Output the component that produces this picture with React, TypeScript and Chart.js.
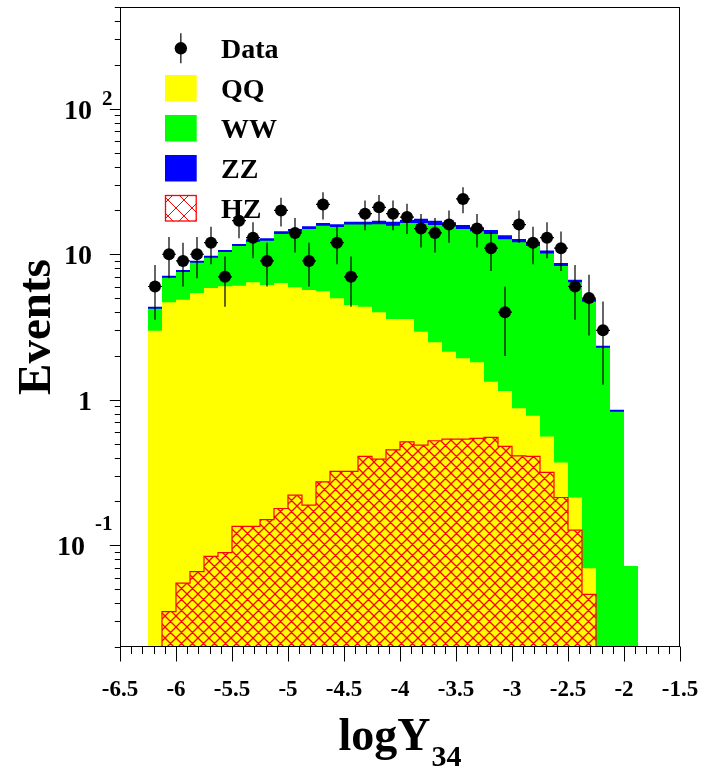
import { useEffect, useRef } from "react";
import { Chart, registerables } from "chart.js";

Chart.register(...registerables);

// ---------------- data ----------------
const binLowEdges = [
  -6.25, -6.125, -6.0, -5.875, -5.75, -5.625, -5.5, -5.375, -5.25, -5.125,
  -5.0, -4.875, -4.75, -4.625, -4.5, -4.375, -4.25, -4.125, -4.0, -3.875,
  -3.75, -3.625, -3.5, -3.375, -3.25, -3.125, -3.0, -2.875, -2.75, -2.625,
  -2.5, -2.375, -2.25, -2.125, -2.0,
];
const binWidth = 0.125;

const qq = [
  2.98, 4.67, 4.87, 5.41, 5.86, 6.02, 6.08, 6.41, 6.14, 6.34,
  5.92, 5.67, 5.56, 4.98, 4.48, 4.36, 3.99, 3.59, 3.59, 2.93,
  2.48, 2.14, 1.93, 1.81, 1.33, 1.15, 0.873, 0.776, 0.56, 0.371,
  0.213, 0.0694, 0, 0, 0,
];
const ww = [
  1.24, 2.22, 2.68, 3.34, 3.61, 4.35, 5.31, 5.79, 6.26, 7.46,
  8.38, 9.23, 10.14, 10.42, 11.52, 11.64, 12.11, 12.11, 12.81, 13.47,
  13.42, 13.36, 12.97, 12.59, 12.47, 11.55, 11.23, 10.62, 9.54, 7.93,
  6.2, 4.65, 2.28, 0.827, 0.072,
];
const zz = [
  0.14, 0.22, 0.24, 0.28, 0.3, 0.33, 0.36, 0.5, 0.5, 0.6,
  0.6, 0.7, 0.7, 0.7, 0.7, 0.7, 0.9, 1.0, 0.8, 1.1,
  1.1, 1.1, 1.0, 0.9, 0.9, 0.8, 0.6, 0.8, 0.5, 0.4,
  0.27, 0.2, 0.07, 0.027, 0,
];
const hz = [
  0, 0.035, 0.055, 0.066, 0.084, 0.089, 0.135, 0.135, 0.15, 0.179,
  0.221, 0.189, 0.273, 0.322, 0.322, 0.408, 0.391, 0.453, 0.514, 0.488,
  0.523, 0.537, 0.537, 0.543, 0.552, 0.478, 0.412, 0.408, 0.317, 0.213,
  0.127, 0.046, 0, 0, 0,
];

const dataValues = [
  6, 10, 9, 10, 12, 7, 17, 13, 9, 20, 14, 9, 22, 12, 7, 19, 21, 19, 18, 15,
  14, 16, 24, 15, 11, 4, 16, 12, 13, 11, 6, 5, 3,
];
const dataErrors = [
  2.45, 3.16, 3.0, 3.16, 3.46, 2.65, 4.12, 3.61, 3.0, 4.47, 3.74, 3.0, 4.69,
  3.46, 2.65, 4.36, 4.58, 4.36, 4.24, 3.87, 3.74, 4.0, 4.9, 3.87, 3.32, 2.0,
  4.0, 3.46, 3.61, 3.32, 2.45, 2.24, 1.73,
];

const xMin = -6.5;
const xMax = -1.5;
const yMin = 0.02;
const yMax = 500;
const xMajorTicks = [-6.5, -6, -5.5, -5, -4.5, -4, -3.5, -3, -2.5, -2, -1.5];
const xMajorLabels = ["-6.5", "-6", "-5.5", "-5", "-4.5", "-4", "-3.5", "-3", "-2.5", "-2", "-1.5"];
const yMajorTicks = [0.1, 1, 10, 100];
const yMajorBase = ["10", "1", "10", "10"];
const yMajorExp = ["-1", "", "", "2"];

const legendLabels = ["Data", "QQ", "WW", "ZZ", "HZ"];
const YELLOW = "#ffff00";
const GREEN = "#00ff00";
const BLUE = "#0000ff";
const RED = "#ff0000";
const SERIF = '"Liberation Serif", "Times New Roman", Times, serif';
const FLOOR = 0.001;

// ---------------- helpers ----------------
function stepPoints(values: number[]) {
  const pts: { x: number; y: number }[] = [];
  const last = binLowEdges.length - 1;
  pts.push({ x: binLowEdges[0], y: FLOOR });
  values.forEach((v, i) => pts.push({ x: binLowEdges[i], y: v > 0 ? v : FLOOR }));
  const end = binLowEdges[last] + binWidth;
  pts.push({ x: end, y: values[last] > 0 ? values[last] : FLOOR });
  pts.push({ x: end, y: FLOOR });
  return pts;
}

function makeHatch(size: number, bg: string | null, lw: number): any {
  const c = document.createElement("canvas");
  c.width = size;
  c.height = size;
  const g = c.getContext("2d");
  if (!g) return RED;
  if (bg) {
    g.fillStyle = bg;
    g.fillRect(0, 0, size, size);
  }
  g.strokeStyle = RED;
  g.lineWidth = lw;
  g.beginPath();
  for (const k of [-size, 0, size]) {
    g.moveTo(k, 0);
    g.lineTo(k + size, size);
    g.moveTo(k, size);
    g.lineTo(k + size, 0);
  }
  g.stroke();
  return g.createPattern(c, "repeat") ?? RED;
}

function makePlugin(legendHatch: any) {
  return {
    id: "rootStyle",
    afterDatasetsDraw(chart: any) {
      const ctx = chart.ctx as CanvasRenderingContext2D;
      const xs = chart.scales.x;
      const ys = chart.scales.y;
      ctx.save();
      ctx.strokeStyle = "#000";
      ctx.lineWidth = 1.2;
      dataValues.forEach((v, i) => {
        const cx = binLowEdges[i] + binWidth / 2;
        const px = xs.getPixelForValue(cx);
        const py = ys.getPixelForValue(v);
        const top = ys.getPixelForValue(v + dataErrors[i]);
        const bot = ys.getPixelForValue(Math.max(v - dataErrors[i], FLOOR));
        ctx.beginPath();
        ctx.moveTo(px, top);
        ctx.lineTo(px, bot);
        ctx.moveTo(xs.getPixelForValue(cx - binWidth / 2), py);
        ctx.lineTo(xs.getPixelForValue(cx + binWidth / 2), py);
        ctx.stroke();
      });
      ctx.restore();
    },
    afterDraw(chart: any) {
      const ctx = chart.ctx as CanvasRenderingContext2D;
      const a = chart.chartArea;
      const xs = chart.scales.x;
      const ys = chart.scales.y;
      ctx.save();
      ctx.strokeStyle = "#000";
      ctx.lineWidth = 1;
      // frame
      ctx.strokeRect(a.left + 0.5, a.top + 0.5, a.right - a.left - 1, a.bottom - a.top - 1);

      // x ticks
      const bottom = a.bottom - 0.5;
      ctx.beginPath();
      for (let i = 0; i <= 50; i++) {
        const v = xMin + i * 0.1;
        const px = Math.round(xs.getPixelForValue(v)) + 0.5;
        const len = i % 5 === 0 ? 15 : 7.5;
        ctx.moveTo(px, bottom);
        ctx.lineTo(px, bottom + len);
      }
      // y ticks
      const left = a.left + 0.5;
      for (const d of [0.01, 0.1, 1, 10, 100]) {
        for (let m = 1; m <= 9; m++) {
          const v = m * d;
          if (v < yMin * 0.999 || v > yMax * 1.001) continue;
          const py = Math.round(ys.getPixelForValue(v)) + 0.5;
          const len = m === 1 ? 10.7 : 5.7;
          ctx.moveTo(left, py);
          ctx.lineTo(left - len, py);
        }
      }
      ctx.stroke();

      // x tick labels
      ctx.fillStyle = "#000";
      ctx.font = `bold 23px ${SERIF}`;
      ctx.textAlign = "center";
      ctx.textBaseline = "alphabetic";
      xMajorTicks.forEach((v, i) => {
        ctx.fillText(xMajorLabels[i], xs.getPixelForValue(v), a.bottom + 48.5);
      });

      // y tick labels
      yMajorTicks.forEach((v, i) => {
        const py = ys.getPixelForValue(v);
        const base = yMajorBase[i];
        const exp = yMajorExp[i];
        ctx.textAlign = "right";
        if (!exp) {
          ctx.font = `bold 28px ${SERIF}`;
          ctx.fillText(base, a.left - 28, py + 10);
        } else {
          ctx.font = `bold 21px ${SERIF}`;
          const ew = ctx.measureText(exp).width;
          const expRight = a.left - 7.5;
          const lift = exp.startsWith("-") ? 25 : 14;
          ctx.fillText(exp, expRight, py + 10 - lift);
          ctx.font = `bold 28px ${SERIF}`;
          ctx.fillText(base, expRight - ew - 10, py + 10);
        }
      });

      // y title
      ctx.save();
      ctx.translate(49.5, (a.top + a.bottom) / 2);
      ctx.rotate(-Math.PI / 2);
      ctx.font = `bold 47px ${SERIF}`;
      ctx.textAlign = "center";
      ctx.fillText("Events", 0, 0);
      ctx.restore();

      // x title
      ctx.font = `bold 46px ${SERIF}`;
      const w1 = ctx.measureText("logY").width;
      ctx.font = `bold 30px ${SERIF}`;
      const w2 = ctx.measureText("34").width;
      const startX = (a.left + a.right) / 2 - (w1 + 1 + w2) / 2;
      ctx.textAlign = "left";
      ctx.font = `bold 46px ${SERIF}`;
      ctx.fillText("logY", startX, a.bottom + 103);
      ctx.font = `bold 30px ${SERIF}`;
      ctx.fillText("34", startX + w1 + 1, a.bottom + 119);

      // legend
      const boxX = a.left + 45;
      const boxW = 31.7;
      const textX = a.left + 101;
      ctx.font = `bold 28px ${SERIF}`;
      ctx.textAlign = "left";
      legendLabels.forEach((label, i) => {
        const base = a.top + 50.5 + 40 * i;
        ctx.fillStyle = "#000";
        ctx.fillText(label, textX, base);
        const cx = boxX + boxW / 2;
        if (i === 0) {
          const cy = base - 9.2;
          ctx.strokeStyle = "#000";
          ctx.lineWidth = 1.2;
          ctx.beginPath();
          ctx.moveTo(cx, cy - 15);
          ctx.lineTo(cx, cy + 15);
          ctx.stroke();
          ctx.beginPath();
          ctx.arc(cx, cy, 6.2, 0, Math.PI * 2);
          ctx.fill();
        } else {
          const by = base - 22.5;
          const bh = 26.5;
          if (i === 4) {
            ctx.fillStyle = legendHatch;
            ctx.fillRect(boxX, by, boxW, bh);
            ctx.strokeStyle = RED;
            ctx.lineWidth = 1.3;
            ctx.strokeRect(boxX + 0.5, by + 0.5, boxW - 1, bh - 1);
          } else {
            ctx.fillStyle = i === 1 ? YELLOW : i === 2 ? GREEN : BLUE;
            ctx.fillRect(boxX, by, boxW, bh);
          }
        }
      });
      ctx.restore();
    },
  };
}

export default function App() {
  const ref = useRef<HTMLCanvasElement>(null);
  useEffect(() => {
    const canvas = ref.current;
    if (!canvas) return;
    const hatch = makeHatch(11, null, 1.3);
    const legendHatch = makeHatch(16, "#ffffff", 1);
    const qqww = qq.map((v, i) => v + ww[i]);
    const total = qqww.map((v, i) => v + zz[i]);
    const stepBase = {
      type: "line" as const,
      stepped: "before" as const,
      pointRadius: 0,
      borderWidth: 0,
      borderColor: "rgba(0,0,0,0)",
      fill: "start" as const,
      tension: 0,
    };
    const chart = new Chart(canvas, {
      type: "line",
      data: {
        datasets: [
          {
            label: "Data",
            data: dataValues.map((v, i) => ({ x: binLowEdges[i] + binWidth / 2, y: v })),
            showLine: false,
            pointRadius: 6,
            pointBackgroundColor: "#000",
            pointBorderWidth: 0,
            pointStyle: "circle",
            order: 0,
          } as any,
          {
            ...stepBase,
            label: "HZ",
            data: stepPoints(hz),
            backgroundColor: hatch,
            borderColor: RED,
            borderWidth: 1.2,
            order: 1,
          } as any,
          { ...stepBase, label: "QQ", data: stepPoints(qq), backgroundColor: YELLOW, order: 2 } as any,
          { ...stepBase, label: "WW", data: stepPoints(qqww), backgroundColor: GREEN, order: 3 } as any,
          { ...stepBase, label: "ZZ", data: stepPoints(total), backgroundColor: BLUE, order: 4 } as any,
        ],
      },
      options: {
        responsive: false,
        animation: false,
        devicePixelRatio: 1,
        events: [],
        layout: { padding: { left: 120, right: 26, top: 7, bottom: 124 } },
        plugins: { legend: { display: false }, tooltip: { enabled: false } },
        scales: {
          x: { type: "linear", min: xMin, max: xMax, display: false },
          y: { type: "logarithmic", min: yMin, max: yMax, display: false },
        },
      },
      plugins: [makePlugin(legendHatch)],
    });
    return () => chart.destroy();
  }, []);
  return (
    <div style={{ position: "absolute", left: 0, top: 0, width: 706, height: 771, background: "#fff" }}>
      <canvas ref={ref} width={706} height={771} style={{ display: "block", width: 706, height: 771 }} />
    </div>
  );
}
